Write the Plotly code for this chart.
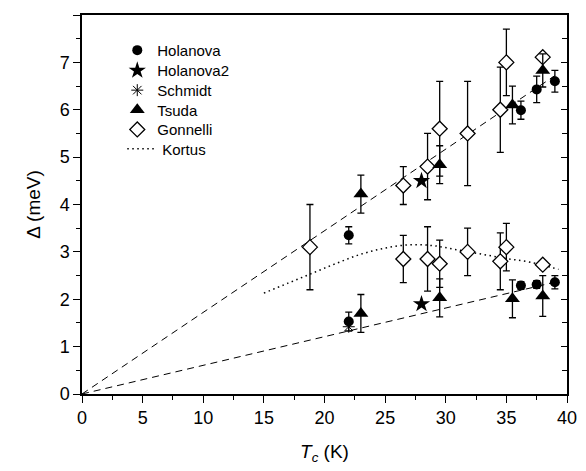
import plotly.graph_objects as go

# ---- data ----
hol_T = [22.0, 22.0, 36.2, 36.2, 37.5, 37.5, 39.0, 39.0]
hol_D = [3.35, 1.53, 5.99, 2.29, 6.43, 2.31, 6.60, 2.36]
hol_E = [0.18, 0.20, 0.19, 0.08, 0.28, 0.08, 0.23, 0.14]

hol2_T = [28.0, 28.0]
hol2_D = [4.50, 1.90]

sch_T = [22.0]
sch_D = [1.42]

tsu_T = [23.0, 29.5, 35.5, 38.0, 23.0, 29.5, 35.5, 38.0]
tsu_D = [4.22, 4.84, 6.10, 6.83, 1.70, 2.03, 2.01, 2.07]
tsu_E = [0.40, 0.40, 0.40, 0.35, 0.40, 0.40, 0.40, 0.43]

gon_T = [18.8, 26.5, 28.5, 29.5, 31.8, 34.5, 35.0, 38.0,
         26.5, 28.5, 29.5, 31.8, 34.5, 35.0, 38.0]
gon_D = [3.10, 4.40, 4.80, 5.60, 5.50, 6.00, 7.00, 7.11,
         2.85, 2.85, 2.75, 3.00, 2.80, 3.10, 2.73]
gon_E = [0.90, 0.40, 0.70, 1.00, 1.10, 0.90, 0.70, 0.00,
         0.50, 0.68, 0.50, 0.50, 0.60, 0.50, 0.00]

kor_T = [15, 17, 19, 21, 23, 25, 27, 29, 31, 33, 35, 37, 39.3]
kor_D = [2.13, 2.34, 2.55, 2.76, 2.95, 3.08, 3.15, 3.13, 3.04, 2.95, 2.86, 2.78, 2.63]

upper_T = [0, 39.0]
upper_D = [0, 6.72]
lower_T = [0, 39.0]
lower_D = [0, 2.36]

x_range = [0, 40]
y_range = [0, 8]
x_ticks = [0, 5, 10, 15, 20, 25, 30, 35, 40]
y_ticks = [0, 1, 2, 3, 4, 5, 6, 7, 8]

FONT = "Liberation Sans, Arial, sans-serif"
BLACK = "black"

# geometry: the page body adds an 8px offset, so margins are set in figure coords
W, H = 586, 471
OFF = 8
PLOT_L, PLOT_R, PLOT_T, PLOT_B = 81.7, 567.0, 15.3, 394.3   # window pixels
ML = PLOT_L - OFF
MT = PLOT_T - OFF
MR = W - (PLOT_R - OFF)
MB = H - (PLOT_B - OFF)
PW = PLOT_R - PLOT_L
PH = PLOT_B - PLOT_T

def px_to_paper_x(px):
    return (px - PLOT_L) / PW

def px_to_paper_y(py):
    return (PLOT_B - py) / PH

def err(vals):
    return dict(type="data", array=vals, visible=True, color=BLACK,
                thickness=1.3, width=3.5)

fig = go.Figure()

# fitted dashed lines
for tx, dy in [(upper_T, upper_D), (lower_T, lower_D)]:
    fig.add_trace(go.Scatter(x=tx, y=dy, mode="lines", showlegend=False,
                             line=dict(color=BLACK, width=1, dash="7px,5px"),
                             hoverinfo="skip"))

fig.add_trace(go.Scatter(x=kor_T, y=kor_D, mode="lines", name="Kortus",
                         line=dict(color=BLACK, width=1.5, dash="1.5px,3.5px", shape="spline"),
                         legend="legend6"))

fig.add_trace(go.Scatter(x=gon_T, y=gon_D, mode="markers", name="Gonnelli",
                         error_y=err(gon_E),
                         marker=dict(symbol="diamond", size=11.5, color="white",
                                     line=dict(color=BLACK, width=1.3)),
                         legend="legend5"))

fig.add_trace(go.Scatter(x=tsu_T, y=tsu_D, mode="markers", name="Tsuda",
                         error_y=err(tsu_E),
                         marker=dict(symbol="triangle-up", size=13, color=BLACK,
                                     line=dict(width=0)),
                         legend="legend4"))

fig.add_trace(go.Scatter(x=sch_T, y=sch_D, mode="markers", name="Schmidt",
                         marker=dict(symbol="asterisk-open", size=10, color=BLACK,
                                     line=dict(color=BLACK, width=1)),
                         legend="legend3"))

fig.add_trace(go.Scatter(x=hol_T, y=hol_D, mode="markers", name="Holanova",
                         error_y=err(hol_E),
                         marker=dict(symbol="circle", size=10, color=BLACK,
                                     line=dict(width=0)),
                         legend="legend"))

fig.add_trace(go.Scatter(x=hol2_T, y=hol2_D, mode="markers", name="Holanova2",
                         marker=dict(symbol="star", size=13, color=BLACK,
                                     line=dict(width=0)),
                         legend="legend2"))

# invisible helper so the right-hand tick axis is drawn
fig.add_trace(go.Scatter(x=[], y=[], xaxis="x", yaxis="y2", showlegend=False,
                         hoverinfo="skip"))

# one legend per entry so the row spacing matches the reference
row_px = [50.7, 71.0, 90.7, 110.3, 130.0, 149.3]
leg_left_px = [117, 117, 117, 117, 117, 122]
legends = {}
for i, (ry, lx) in enumerate(zip(row_px, leg_left_px)):
    key = "legend" if i == 0 else f"legend{i+1}"
    legends[key] = dict(x=px_to_paper_x(lx), y=px_to_paper_y(ry),
                        xanchor="left", yanchor="middle",
                        bgcolor="rgba(0,0,0,0)", borderwidth=0,
                        font=dict(size=15, family=FONT, color=BLACK))

fig.update_layout(
    width=W, height=H,
    margin=dict(l=ML, r=MR, t=MT, b=MB, autoexpand=False),
    paper_bgcolor="white", plot_bgcolor="white",
    font=dict(family=FONT, color=BLACK, size=18),
    showlegend=True,
    **legends,
    xaxis=dict(range=x_range, tickvals=x_ticks, ticktext=[str(v) for v in x_ticks],
               automargin=False,
               showgrid=False, zeroline=False, showline=True, linecolor=BLACK,
               linewidth=1.5, mirror=True, ticks="outside", ticklen=7, tickwidth=1.3,
               tickcolor=BLACK, tickfont=dict(size=18),
               minor=dict(dtick=2.5, ticks="outside", ticklen=4, tickwidth=1.3,
                          tickcolor=BLACK, showgrid=False),
               title=dict(text="<i>T</i><sub><i>c</i></sub> (K)", font=dict(size=19),
                          standoff=17)),
    yaxis=dict(range=y_range, tickvals=y_ticks, ticktext=[str(v) for v in y_ticks],
               automargin=False,
               showgrid=False, zeroline=False, showline=True, linecolor=BLACK,
               linewidth=1.5, mirror=True, ticks="outside", ticklen=7, tickwidth=1.3,
               tickcolor=BLACK, tickfont=dict(size=18),
               minor=dict(dtick=0.5, ticks="outside", ticklen=4, tickwidth=1.3,
                          tickcolor=BLACK, showgrid=False),
               title=dict(text="Δ (meV)", font=dict(size=19), standoff=14)),
    yaxis2=dict(range=y_range, overlaying="y", side="right", anchor="x",
                automargin=False,
                tickvals=y_ticks, showticklabels=False, showgrid=False,
                zeroline=False, showline=False, ticks="inside", ticklen=6,
                tickwidth=1.3, tickcolor=BLACK,
                minor=dict(dtick=0.5, ticks="inside", ticklen=5, tickwidth=1.3,
                           tickcolor=BLACK, showgrid=False)),
)

fig.write_html("out.html")
